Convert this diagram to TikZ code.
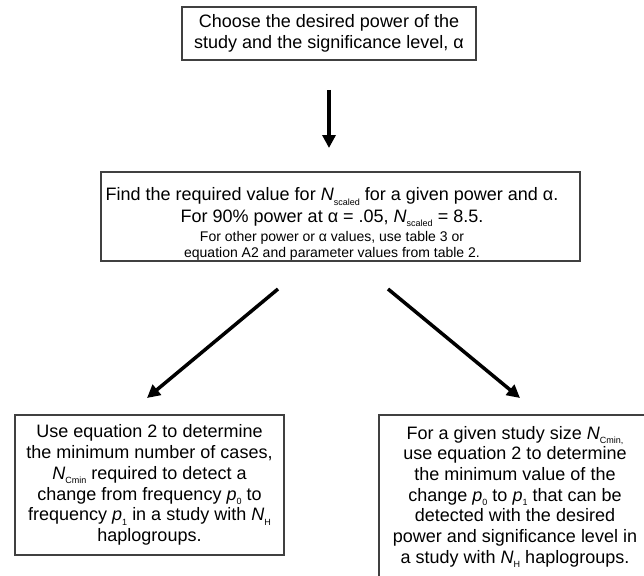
\documentclass[tikz,border=0pt]{standalone}
\usepackage{fontspec}
\setmainfont{Liberation Sans}
\usetikzlibrary{arrows.meta}
\newcommand{\lowsub}[1]{\raisebox{-4.5pt}{\fontsize{9}{9}\selectfont #1}}
\newcommand{\Nsc}{\textit{N}\lowsub{scaled}}
\newcommand{\smalltxt}{\fontsize{14}{16}\selectfont}

\begin{document}
\begin{tikzpicture}[x=1pt,y=-1pt,
  box/.style={draw=black!75,line width=1.2pt,inner sep=0pt,align=center,font=\fontsize{18}{20.7}\selectfont},
  txt/.style={inner sep=0pt,align=center,font=\fontsize{18}{20.7}\selectfont},
  flow/.style={line width=3.5pt,-{Triangle[width=13pt,length=13pt]}}]
  \useasboundingbox (0,0) rectangle (644,575);
  % boxes
  \node[box,minimum width=294pt,minimum height=53pt] (choose) at (329,33.5)
    {Choose the desired power of the\\study and the significance level, α};
  \node[box,minimum width=479pt,minimum height=89pt] (findbox) at (340.5,216.5) {};
  \node[txt] (find) at (332,224) {Find the required value for \Nsc{} for a given power and α.\\[1pt]
    For 90\% power at α = .05, \Nsc{} = 8.5.\\[-1.5pt]
    {\smalltxt For other power or α values, use table 3 or}\\[-5pt]
    {\smalltxt equation A2 and parameter values from table 2.}};
  \node[box,minimum width=269pt,minimum height=140pt] (cases) at (149.5,485)
    {Use equation 2 to determine\\
     the minimum number of cases,\\
     \textit{N}\lowsub{Cmin} required to detect a\\
     change from frequency \textit{p}\lowsub{0} to\\
     frequency \textit{p}\lowsub{1} in a study with \textit{N}\lowsub{H}\\
     haplogroups.};
  \node[box,minimum width=272pt,minimum height=164pt] (change) at (515,497)
    {For a given study size \textit{N}\lowsub{Cmin,}\\
     use equation 2 to determine\\
     the minimum value of the\\
     change \textit{p}\lowsub{0} to \textit{p}\lowsub{1} that can be\\
     detected with the desired\\
     power and significance level in\\
     a study with \textit{N}\lowsub{H} haplogroups.};
  % arrows
  \coordinate (v0) at (329,90);
  \coordinate (v1) at (329,148);
  \coordinate (l0) at (278,289);
  \coordinate (l1) at (147,398);
  \coordinate (r0) at (388,289);
  \coordinate (r1) at (520,398);
  \draw[flow] (v0) -- (v1);
  \draw[flow] (l0) -- (l1);
  \draw[flow] (r0) -- (r1);
\end{tikzpicture}
\end{document}
